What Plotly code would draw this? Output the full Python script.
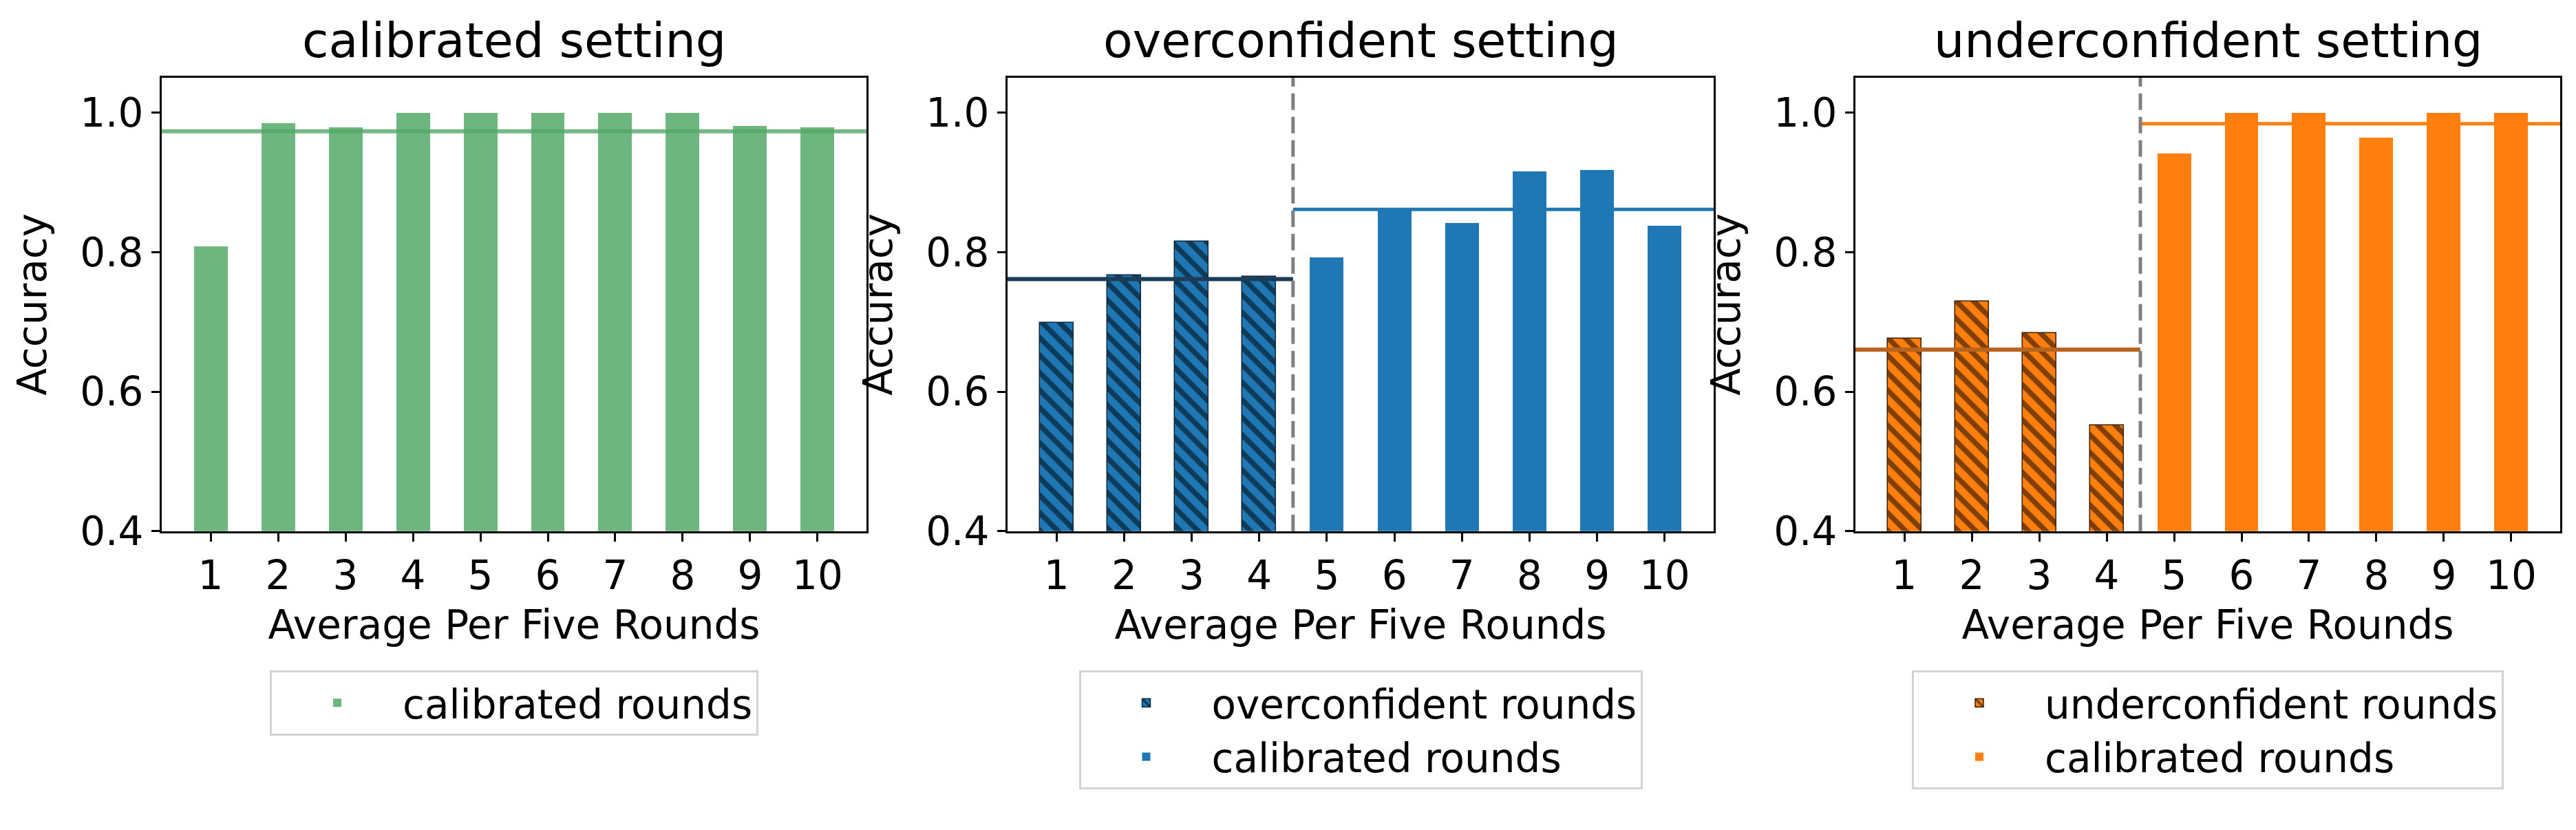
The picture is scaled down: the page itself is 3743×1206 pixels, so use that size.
import numpy as np
import plotly.graph_objects as go

# ---------------- data ----------------
rounds = list(range(1, 11))
tick_labels = [str(r) for r in rounds]
y_ticks = [0.4, 0.6, 0.8, 1.0]

calibrated_setting_acc = [0.808, 0.985, 0.979, 1.0, 1.0, 1.0, 1.0, 1.0, 0.981, 0.979]

shift_rounds = [1, 2, 3, 4]
post_rounds = [5, 6, 7, 8, 9, 10]

over_shift_acc = [0.699, 0.767, 0.815, 0.765]
over_calib_acc = [0.793, 0.861, 0.842, 0.916, 0.918, 0.838]

under_shift_acc = [0.676, 0.729, 0.684, 0.552]
under_calib_acc = [0.941, 1.0, 1.0, 0.964, 1.0, 1.0]

titles = ["calibrated setting", "overconfident setting", "underconfident setting"]
x_title = "Average Per Five Rounds"
y_title = "Accuracy"

# ---------------- styling ----------------
W, H = 3743, 1206
FONT = "DejaVu Sans"
FS = 58
TFS = 70
XMIN, XMAX = 0.275, 10.725
YMIN, YMAX = 0.4, 1.05
SPLIT = 4.5

GREEN = "#6db67f"
GREEN_LINE = "rgba(85,168,104,0.8)"
BLUE = "#1f77b4"
NAVY = "#1c3d57"
ORANGE = "#ff7f0e"
BROWN = "#b8641f"

x_domains = [[227 / W, 1251 / W], [1456 / W, 2482 / W], [2688 / W, 3712 / W]]
y_domain = [1 - 786 / H, 1 - 108 / H]

fig = go.Figure()

hatch = lambda c: dict(shape="\\", fgcolor="black", bgcolor=c, size=18, solidity=0.42)

# panel 1
fig.add_trace(go.Bar(x=rounds, y=calibrated_setting_acc, width=0.5, name="calibrated rounds",
                     marker=dict(color=GREEN, line=dict(width=0)), xaxis="x", yaxis="y",
                     legend="legend", showlegend=True))
# panel 2
fig.add_trace(go.Bar(x=shift_rounds, y=over_shift_acc, width=0.5, name="overconfident rounds",
                     marker=dict(color=BLUE, pattern=hatch(BLUE), line=dict(width=1.5, color="#10263a")),
                     xaxis="x2", yaxis="y2", legend="legend2", showlegend=True))
fig.add_trace(go.Bar(x=post_rounds, y=over_calib_acc, width=0.5, name="calibrated rounds",
                     marker=dict(color=BLUE, line=dict(width=0)), xaxis="x2", yaxis="y2",
                     legend="legend2", showlegend=True))
# panel 3
fig.add_trace(go.Bar(x=shift_rounds, y=under_shift_acc, width=0.5, name="underconfident rounds",
                     marker=dict(color=ORANGE, pattern=hatch(ORANGE), line=dict(width=1.5, color="#3a1e05")),
                     xaxis="x3", yaxis="y3", legend="legend3", showlegend=True))
fig.add_trace(go.Bar(x=post_rounds, y=under_calib_acc, width=0.5, name="calibrated rounds",
                     marker=dict(color=ORANGE, line=dict(width=0)), xaxis="x3", yaxis="y3",
                     legend="legend3", showlegend=True))

shapes = []
# mean lines
m0 = float(np.mean(calibrated_setting_acc))
shapes.append(dict(type="line", xref="x domain", yref="y", x0=0, x1=1, y0=m0, y1=m0,
                   line=dict(color=GREEN_LINE, width=6)))
for ax, sh, ca, c1, c2 in [("2", over_shift_acc, over_calib_acc, NAVY, BLUE),
                           ("3", under_shift_acc, under_calib_acc, BROWN, ORANGE)]:
    m1, m2 = float(np.mean(sh)), float(np.mean(ca))
    shapes.append(dict(type="line", xref="x" + ax, yref="y" + ax, x0=XMIN, x1=SPLIT, y0=m1, y1=m1,
                       line=dict(color=c1, width=6)))
    shapes.append(dict(type="line", xref="x" + ax, yref="y" + ax, x0=SPLIT, x1=XMAX, y0=m2, y1=m2,
                       line=dict(color=c2, width=5)))
    shapes.append(dict(type="line", xref="x" + ax, yref="y" + ax + " domain", x0=SPLIT, x1=SPLIT, y0=0, y1=1,
                       line=dict(color="#808080", width=5, dash="24px,10px")))

annotations = []
for i, t in enumerate(titles):
    annotations.append(dict(text=t, x=(x_domains[i][0] + x_domains[i][1]) / 2, y=1 - 52 / H,
                            xref="paper", yref="paper", xanchor="center", yanchor="middle",
                            showarrow=False, font=dict(family=FONT, size=TFS, color="black")))

layout = dict(
    width=W, height=H, margin=dict(l=0, r=0, t=0, b=0),
    paper_bgcolor="white", plot_bgcolor="white",
    font=dict(family=FONT, size=FS, color="black"),
    shapes=shapes, annotations=annotations, bargap=0, showlegend=True,
)

for i in range(3):
    sfx = "" if i == 0 else str(i + 1)
    layout["xaxis" + sfx] = dict(
        domain=x_domains[i], anchor="y" + sfx, range=[XMIN, XMAX],
        tickmode="array", tickvals=rounds, ticktext=tick_labels,
        ticks="outside", ticklen=12, tickwidth=3, tickcolor="black",
        showline=True, linecolor="black", linewidth=3, mirror=True,
        showgrid=False, zeroline=False,
        tickfont=dict(family=FONT, size=FS),
        title=dict(text=x_title, font=dict(family=FONT, size=FS), standoff=18),
    )
    layout["yaxis" + sfx] = dict(
        domain=y_domain, anchor="x" + sfx, range=[YMIN, YMAX],
        tickmode="array", tickvals=y_ticks, ticktext=[f"{v:.1f}" for v in y_ticks],
        ticks="outside", ticklen=12, tickwidth=3, tickcolor="black",
        showline=True, linecolor="black", linewidth=3, mirror=True,
        showgrid=False, zeroline=False,
        tickfont=dict(family=FONT, size=FS),
        title=dict(text=y_title, font=dict(family=FONT, size=FS), standoff=30),
    )

legend_base = dict(yanchor="top", xanchor="center", y=1 - 994 / H,
                   font=dict(family=FONT, size=FS), bordercolor="#d3d3d3", borderwidth=3,
                   bgcolor="white", traceorder="normal", itemwidth=180)
for i, key in enumerate(["legend", "legend2", "legend3"]):
    layout[key] = dict(legend_base, x=(x_domains[i][0] + x_domains[i][1]) / 2)

fig.update_layout(**layout)
fig.write_html("out.html")
